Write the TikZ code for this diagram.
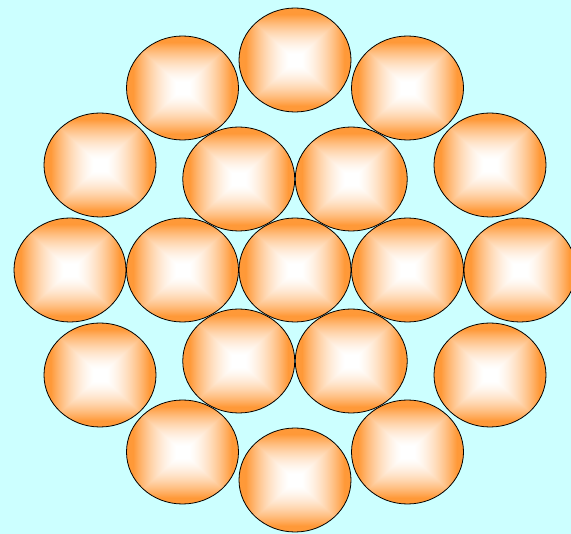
\documentclass[tikz,border=0pt]{standalone}
\usetikzlibrary{shapes.geometric}
\definecolor{bgcyan}{HTML}{CCFFFF}
\pgfdeclarefunctionalshading{rectsh}{\pgfpoint{-25bp}{-25bp}}{\pgfpoint{25bp}{25bp}}{}{
 abs exch abs 2 copy lt {exch} if pop
 25 div 0.12 sub 0.76 div
 dup 0 lt {pop 0} if dup 1 gt {pop 1} if
 dup 0.6 mul 0.4 add mul
 dup 0.4 mul 1 exch sub
 exch 0.78 mul 1 exch sub
 1 3 1 roll
}
\tikzset{
  ball/.style={ellipse, draw=black, line width=0.8pt, inner sep=0pt,
    minimum width=112pt, minimum height=104pt, shading=rectsh}
}
\begin{document}
\begin{tikzpicture}[x=1pt,y=-1pt]
\fill[bgcyan] (0,0) rectangle (571,534);
\useasboundingbox (0,0) rectangle (571,534);
% centre
\node[ball] (c0) at (295,270) {};
% inner ring
\node[ball] (i1) at (407.5,270) {};
\node[ball] (i2) at (351.25,179) {};
\node[ball] (i3) at (238.75,179) {};
\node[ball] (i4) at (182.5,270) {};
\node[ball] (i5) at (238.75,361) {};
\node[ball] (i6) at (351.25,361) {};
% outer ring
\node[ball] (o1) at (295,60) {};
\node[ball] (o2) at (407.5,88) {};
\node[ball] (o3) at (490,165) {};
\node[ball] (o4) at (520,270) {};
\node[ball] (o5) at (490,375) {};
\node[ball] (o6) at (407.5,452) {};
\node[ball] (o7) at (295,480) {};
\node[ball] (o8) at (182.5,452) {};
\node[ball] (o9) at (100,375) {};
\node[ball] (o10) at (70,270) {};
\node[ball] (o11) at (100,165) {};
\node[ball] (o12) at (182.5,88) {};
\end{tikzpicture}
\end{document}
